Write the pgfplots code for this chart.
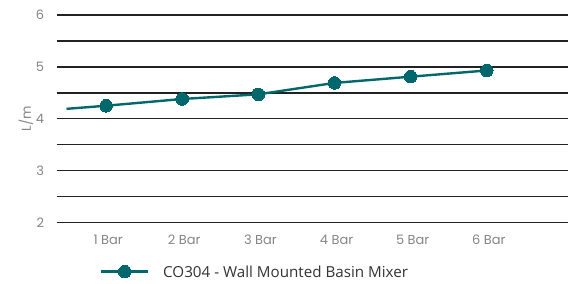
\documentclass[border=0pt]{standalone}
\usepackage{pgfplots}
\pgfplotsset{compat=1.18}
\usepackage{fontspec}
\setmainfont{Open Sans}
\newfontfamily\tickfont{Poppins}
\definecolor{teal1}{HTML}{00676D}
\definecolor{gridc}{HTML}{222222}
\definecolor{tickc}{HTML}{858585}
\begin{document}
\begin{tikzpicture}[x=1pt,y=1pt]
\begin{axis}[
  name=main,
  at={(0,0)}, anchor=south west,
  scale only axis, width=512.3pt, height=207.7pt,
  xmin=0.35, xmax=7.07, ymin=2, ymax=6,
  axis line style={draw=none},
  ytick={2,3,4,5,6},
  extra y ticks={2.5,3.5,4.5,5.5},
  extra y tick labels={},
  extra y tick style={grid=major},
  ymajorgrids,
  grid style={gridc, line width=1.5pt},
  xtick={1,2,3,4,5,6},
  xticklabels={1 Bar,2 Bar,3 Bar,4 Bar,5 Bar,6 Bar},
  major tick length=0pt,
  tick style={draw=none},
  ticklabel style={font=\tickfont\fontsize{13}{15}\selectfont, text=tickc},
  /pgf/number format/assume math mode=true,
  yticklabel style={xshift=-9pt},
  xticklabel style={yshift=-9pt, xshift=2pt},
  ylabel={L/m},
  ylabel style={font=\tickfont\fontsize{13}{15}\selectfont, text=tickc, yshift=-4pt},
  legend style={at={(axis description cs:0.0845,-0.237)}, anchor=west, draw=none, fill=none,
    font=\fontsize{15.2}{18}\selectfont, text=black!80, inner sep=0pt,
    nodes={inner sep=0pt, text depth=0pt}},
  legend cell align=left,
  legend image code/.code={\draw[mark repeat=2,mark phase=2] plot coordinates {(0pt,0pt) (23.5pt,0pt) (47pt,0pt)}; \path[draw=none] (47pt,0pt) -- (62pt,0pt);},
  clip=false,
]
\addplot[teal1, line width=2.4pt, no markers, forget plot]
  coordinates {(0.48,4.19) (1,4.25)};
\addplot[teal1, line width=2.4pt, mark=*, mark size=6.3pt, mark options={fill=teal1, draw=teal1, line width=0pt}]
  coordinates {(1,4.25) (2,4.38) (3,4.47) (4,4.69) (5,4.81) (6,4.93)};
\addlegendentry{CO304 - Wall Mounted Basin Mixer}
\end{axis}
\path (-56.7,-61.3) rectangle (512.3,222.7);
\end{tikzpicture}
\end{document}
